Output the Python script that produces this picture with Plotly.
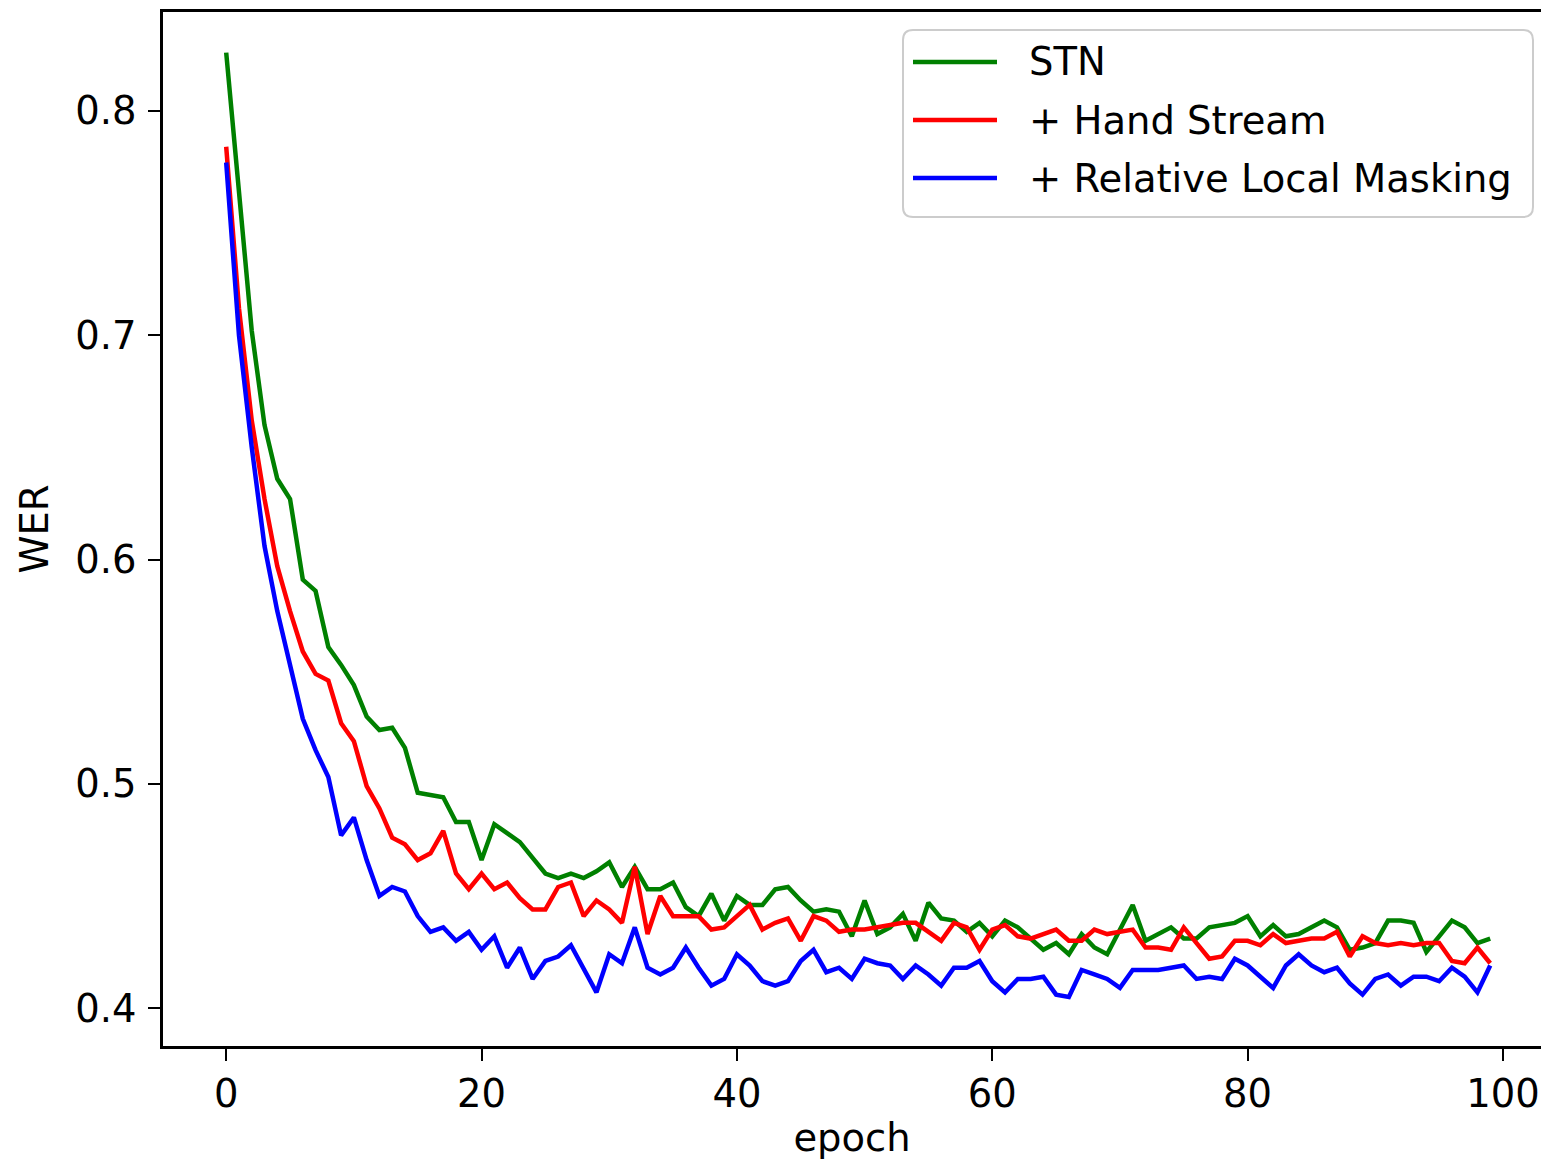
import plotly.graph_objects as go

epochs = list(range(100))

stn = [0.826, 0.762, 0.702, 0.660, 0.636, 0.627, 0.591, 0.586, 0.561, 0.553,
       0.544, 0.530, 0.524, 0.525, 0.516, 0.496, 0.495, 0.494, 0.483, 0.483,
       0.466, 0.482, 0.478, 0.474, 0.467, 0.460, 0.458, 0.460, 0.458, 0.461,
       0.465, 0.454, 0.463, 0.453, 0.453, 0.456, 0.445, 0.441, 0.451, 0.439,
       0.450, 0.446, 0.446, 0.453, 0.454, 0.448, 0.443, 0.444, 0.443, 0.432,
       0.448, 0.433, 0.436, 0.442, 0.430, 0.447, 0.440, 0.439, 0.434, 0.438,
       0.432, 0.439, 0.436, 0.431, 0.426, 0.429, 0.424, 0.433, 0.427, 0.424,
       0.435, 0.446, 0.430, 0.433, 0.436, 0.431, 0.431, 0.436, 0.437, 0.438,
       0.441, 0.432, 0.437, 0.432, 0.433, 0.436, 0.439, 0.436, 0.426, 0.427,
       0.429, 0.439, 0.439, 0.438, 0.425, 0.432, 0.439, 0.436, 0.429, 0.431]

hand = [0.784, 0.712, 0.662, 0.627, 0.597, 0.577, 0.559, 0.549, 0.546, 0.527,
        0.519, 0.499, 0.489, 0.476, 0.473, 0.466, 0.469, 0.479, 0.460, 0.453,
        0.460, 0.453, 0.456, 0.449, 0.444, 0.444, 0.454, 0.456, 0.441, 0.448,
        0.444, 0.438, 0.463, 0.433, 0.450, 0.441, 0.441, 0.441, 0.435, 0.436,
        0.441, 0.446, 0.435, 0.438, 0.440, 0.430, 0.441, 0.439, 0.434, 0.435,
        0.435, 0.436, 0.437, 0.438, 0.438, 0.434, 0.430, 0.438, 0.436, 0.426,
        0.435, 0.437, 0.432, 0.431, 0.433, 0.435, 0.430, 0.430, 0.435, 0.433,
        0.434, 0.435, 0.427, 0.427, 0.426, 0.436, 0.429, 0.422, 0.423, 0.430,
        0.430, 0.428, 0.433, 0.429, 0.430, 0.431, 0.431, 0.434, 0.423, 0.432,
        0.429, 0.428, 0.429, 0.428, 0.429, 0.429, 0.421, 0.420, 0.427, 0.420]

rlm = [0.777, 0.700, 0.650, 0.606, 0.577, 0.553, 0.529, 0.515, 0.503, 0.477,
       0.485, 0.466, 0.450, 0.454, 0.452, 0.441, 0.434, 0.436, 0.430, 0.434,
       0.426, 0.432, 0.418, 0.427, 0.413, 0.421, 0.423, 0.428, 0.418, 0.407,
       0.424, 0.420, 0.436, 0.418, 0.415, 0.418, 0.427, 0.418, 0.410, 0.413,
       0.424, 0.419, 0.412, 0.410, 0.412, 0.421, 0.426, 0.416, 0.418, 0.413,
       0.422, 0.420, 0.419, 0.413, 0.419, 0.415, 0.410, 0.418, 0.418, 0.421,
       0.412, 0.407, 0.413, 0.413, 0.414, 0.406, 0.405, 0.417, 0.415, 0.413,
       0.409, 0.417, 0.417, 0.417, 0.418, 0.419, 0.413, 0.414, 0.413, 0.422,
       0.419, 0.414, 0.409, 0.419, 0.424, 0.419, 0.416, 0.418, 0.411, 0.406,
       0.413, 0.415, 0.410, 0.414, 0.414, 0.412, 0.418, 0.414, 0.407, 0.419]

series_names = ["STN", "+ Hand Stream", "+ Relative Local Masking"]
series_values = [stn, hand, rlm]
series_colors = ["#008000", "#ff0000", "#0000ff"]

x_ticks = [0, 20, 40, 60, 80, 100]
y_ticks = [0.4, 0.5, 0.6, 0.7, 0.8]

FONT = "DejaVu Sans"
FS = 38.5

# page has an 8px body margin: figure coords = page coords - 8
OFF = 8
W, H = 1549 - 2 * OFF, 1168 - 2 * OFF
PL, PR, PT, PB = 163 - OFF, W, 12 - OFF, 1046 - OFF   # plot area in figure px

def px(v):
    return (v - OFF - PL) / (PR - PL)
def py(v):
    return (PB - (v - OFF)) / (PB - PT)

fig = go.Figure()
for name, vals, col in zip(series_names, series_values, series_colors):
    fig.add_trace(go.Scatter(x=epochs, y=vals, mode="lines", name=name,
                             line=dict(color=col, width=4.5), showlegend=False))

# custom legend (matplotlib style), page coordinates
L, R, T, B = 903, 1533, 30, 217
r = 10
path = (f"M {px(L+r)},{py(T)} L {px(R-r)},{py(T)} Q {px(R)},{py(T)} {px(R)},{py(T+r)} "
        f"L {px(R)},{py(B-r)} Q {px(R)},{py(B)} {px(R-r)},{py(B)} "
        f"L {px(L+r)},{py(B)} Q {px(L)},{py(B)} {px(L)},{py(B-r)} "
        f"L {px(L)},{py(T+r)} Q {px(L)},{py(T)} {px(L+r)},{py(T)} Z")
fig.add_shape(type="path", path=path, xref="paper", yref="paper",
              line=dict(color="#cccccc", width=2), fillcolor="rgba(255,255,255,0.8)",
              layer="above")
rows = [62, 120, 178]
for name, col, ry in zip(series_names, series_colors, rows):
    fig.add_shape(type="line", xref="paper", yref="paper",
                  x0=px(913), x1=px(997), y0=py(ry), y1=py(ry),
                  line=dict(color=col, width=4.5), layer="above")
    fig.add_annotation(x=px(1027), y=py(ry), xref="paper", yref="paper",
                       text=name, showarrow=False, xanchor="left", yanchor="middle",
                       font=dict(family=FONT, size=FS, color="#000000"))

# data value at the plot area's right edge (page x = W + OFF)
x_right = (W + OFF - 227) / 12.76

fig.update_layout(
    width=W, height=H,
    margin=dict(l=PL, r=W - PR, t=PT, b=H - PB),
    paper_bgcolor="white", plot_bgcolor="white",
    font=dict(family=FONT, size=FS, color="#000000"),
    showlegend=False,
)
fig.update_xaxes(
    range=[-4.95, x_right], tickvals=x_ticks, ticktext=[str(t) for t in x_ticks],
    showgrid=False, zeroline=False, showline=True, linecolor="black", linewidth=2.5,
    mirror=True, ticks="outside", ticklen=12, tickwidth=2, tickcolor="black",
    title=dict(text="epoch", standoff=14, font=dict(family=FONT, size=FS)),
)
fig.update_yaxes(
    range=[0.3831, 0.8441], tickvals=y_ticks, ticktext=[f"{t:.1f}" for t in y_ticks],
    showgrid=False, zeroline=False, showline=True, linecolor="black", linewidth=2.5,
    ticks="outside", ticklen=12, tickwidth=2, tickcolor="black", ticklabelstandoff=4,
    title=dict(text="WER", standoff=15, font=dict(family=FONT, size=FS)),
)

fig.write_html("out.html")
